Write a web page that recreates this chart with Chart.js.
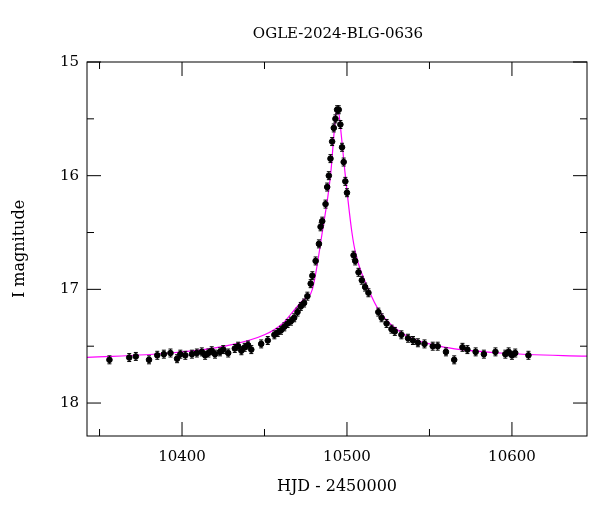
<!DOCTYPE html>
<html>
<head>
<meta charset="utf-8">
<script src="https://cdn.jsdelivr.net/npm/chart.js@4.4.1/dist/chart.umd.min.js"></script>
<style>
  body { margin: 0; background: #fff; }
  #wrap { width: 600px; height: 512px; }
</style>
</head>
<body>
<div id="wrap"><canvas id="lc"></canvas></div>
<script>
// observations (HJD - 2450000, I mag, error)
const obsT = [10356,10368,10372,10380,10385,10389,10393,10397,10399,10402,10406,10409,10412,10414,10416,10418,10420,10423,10425,10428,10432,10434,10436,10438,10440,10442,10448,10452,10456,10458,10460,10462,10464,10466,10468,10470,10472,10474,10476,10478,10479,10481,10483,10484,10485,10487,10488,10489,10490,10491,10492,10493,10494,10495,10496,10497,10498,10499,10500,10504,10505,10507,10509,10511,10513,10519,10521,10524,10527,10529,10533,10537,10540,10543,10547,10552,10555,10560,10565,10570,10573,10578,10583,10590,10596,10598,10600,10602,10610];
const obsMag = [17.62,17.60,17.59,17.62,17.58,17.57,17.56,17.61,17.57,17.58,17.57,17.56,17.55,17.58,17.56,17.54,17.57,17.55,17.53,17.56,17.52,17.50,17.54,17.51,17.49,17.53,17.48,17.45,17.40,17.38,17.36,17.33,17.30,17.28,17.25,17.20,17.15,17.12,17.06,16.95,16.88,16.75,16.60,16.45,16.40,16.25,16.10,16.00,15.85,15.70,15.58,15.50,15.42,15.42,15.55,15.75,15.88,16.05,16.15,16.70,16.75,16.85,16.92,16.98,17.03,17.20,17.25,17.30,17.35,17.37,17.40,17.43,17.45,17.47,17.48,17.50,17.50,17.55,17.62,17.51,17.53,17.55,17.57,17.55,17.57,17.55,17.58,17.56,17.58];
const obsErr = 0.035;

// model curve
const modelT = [10340,10393,10426,10450,10461,10467,10473,10479,10485,10490,10493,10494.5,10495.5,10499,10503,10505.5,10513,10520,10535,10556,10593,10650];
const modelMag = [17.60,17.56,17.50,17.40,17.30,17.20,17.10,17.00,16.50,16.00,15.50,15.40,15.50,16.00,16.50,16.70,17.00,17.20,17.40,17.50,17.56,17.59];

const xMajor = [10400, 10500, 10600];
const yMajor = [15, 16, 17, 18];

const serif = '"DejaVu Serif", "Liberation Serif", serif';

const framePlugin = {
  id: 'frame',
  afterDatasetsDraw(chart) {
    const { ctx, chartArea: a, scales: { x, y } } = chart;
    ctx.save();
    ctx.strokeStyle = '#000';
    ctx.lineWidth = 1;
    // error bars
    const ds = chart.data.datasets[1].data;
    ds.forEach(p => {
      const px = x.getPixelForValue(p.x);
      const y1 = y.getPixelForValue(p.y - obsErr), y2 = y.getPixelForValue(p.y + obsErr);
      ctx.beginPath();
      ctx.moveTo(px, y1); ctx.lineTo(px, y2);
      ctx.moveTo(px - 2, y1); ctx.lineTo(px + 2, y1);
      ctx.moveTo(px - 2, y2); ctx.lineTo(px + 2, y2);
      ctx.stroke();
    });
    // box
    ctx.strokeRect(a.left, a.top, a.right - a.left, a.bottom - a.top);
    // inward ticks
    ctx.beginPath();
    for (let v = 10350; v <= 10650; v += 50) {
      const px = x.getPixelForValue(v);
      if (px < a.left || px > a.right) continue;
      const len = v % 100 === 0 ? 14 : 7;
      ctx.moveTo(px, a.bottom); ctx.lineTo(px, a.bottom - len);
      ctx.moveTo(px, a.top); ctx.lineTo(px, a.top + len);
    }
    for (let v = 15; v <= 18.25; v += 0.5) {
      const py = y.getPixelForValue(v);
      const len = v % 1 === 0 ? 14 : 7;
      ctx.moveTo(a.left, py); ctx.lineTo(a.left + len, py);
      ctx.moveTo(a.right, py); ctx.lineTo(a.right - len, py);
    }
    ctx.stroke();
    // title
    ctx.fillStyle = '#000';
    ctx.font = '15px ' + serif;
    ctx.textAlign = 'center';
    ctx.textBaseline = 'middle';
    ctx.fillText('OGLE-2024-BLG-0636', (a.left + a.right) / 2 + 1, 34);
    ctx.restore();
  }
};

new Chart(document.getElementById('lc'), {
  type: 'scatter',
  data: {
    datasets: [
      {
        type: 'line',
        data: modelT.map((t, i) => ({ x: t, y: modelMag[i] })),
        borderColor: '#ff00ff',
        borderWidth: 1.2,
        pointRadius: 0,
        cubicInterpolationMode: 'monotone',
        order: 2
      },
      {
        data: obsT.map((t, i) => ({ x: t, y: obsMag[i] })),
        backgroundColor: '#000',
        borderColor: '#000',
        pointRadius: 2.8,
        order: 1
      }
    ]
  },
  plugins: [framePlugin],
  options: {
    responsive: true,
    maintainAspectRatio: false,
    animation: false,
    layout: { padding: { top: 62, right: 13, left: 6, bottom: 12 } },
    plugins: { legend: { display: false }, tooltip: { enabled: false } },
    scales: {
      x: {
        type: 'linear',
        min: 10342.4, max: 10645.5,
        afterBuildTicks: s => { s.ticks = xMajor.map(v => ({ value: v })); },
        afterFit: s => { s.height = 64; },
        grid: { display: false, drawTicks: false },
        border: { display: false },
        ticks: { color: '#000', font: { family: serif, size: 15 }, padding: 12, callback: v => String(v) },
        title: { display: true, text: 'HJD - 2450000', color: '#000', font: { family: serif, size: 16 }, padding: { top: 6 } }
      },
      y: {
        type: 'linear',
        reverse: true,
        min: 15, max: 18.29,
        afterBuildTicks: s => { s.ticks = yMajor.map(v => ({ value: v })); },
        afterFit: s => { s.width = 81; },
        grid: { display: false, drawTicks: false },
        border: { display: false },
        ticks: { color: '#000', font: { family: serif, size: 15 }, padding: 8 },
        title: { display: true, text: 'I magnitude', color: '#000', font: { family: serif, size: 16 }, padding: { bottom: 0 } }
      }
    }
  }
});
</script>
</body>
</html>
